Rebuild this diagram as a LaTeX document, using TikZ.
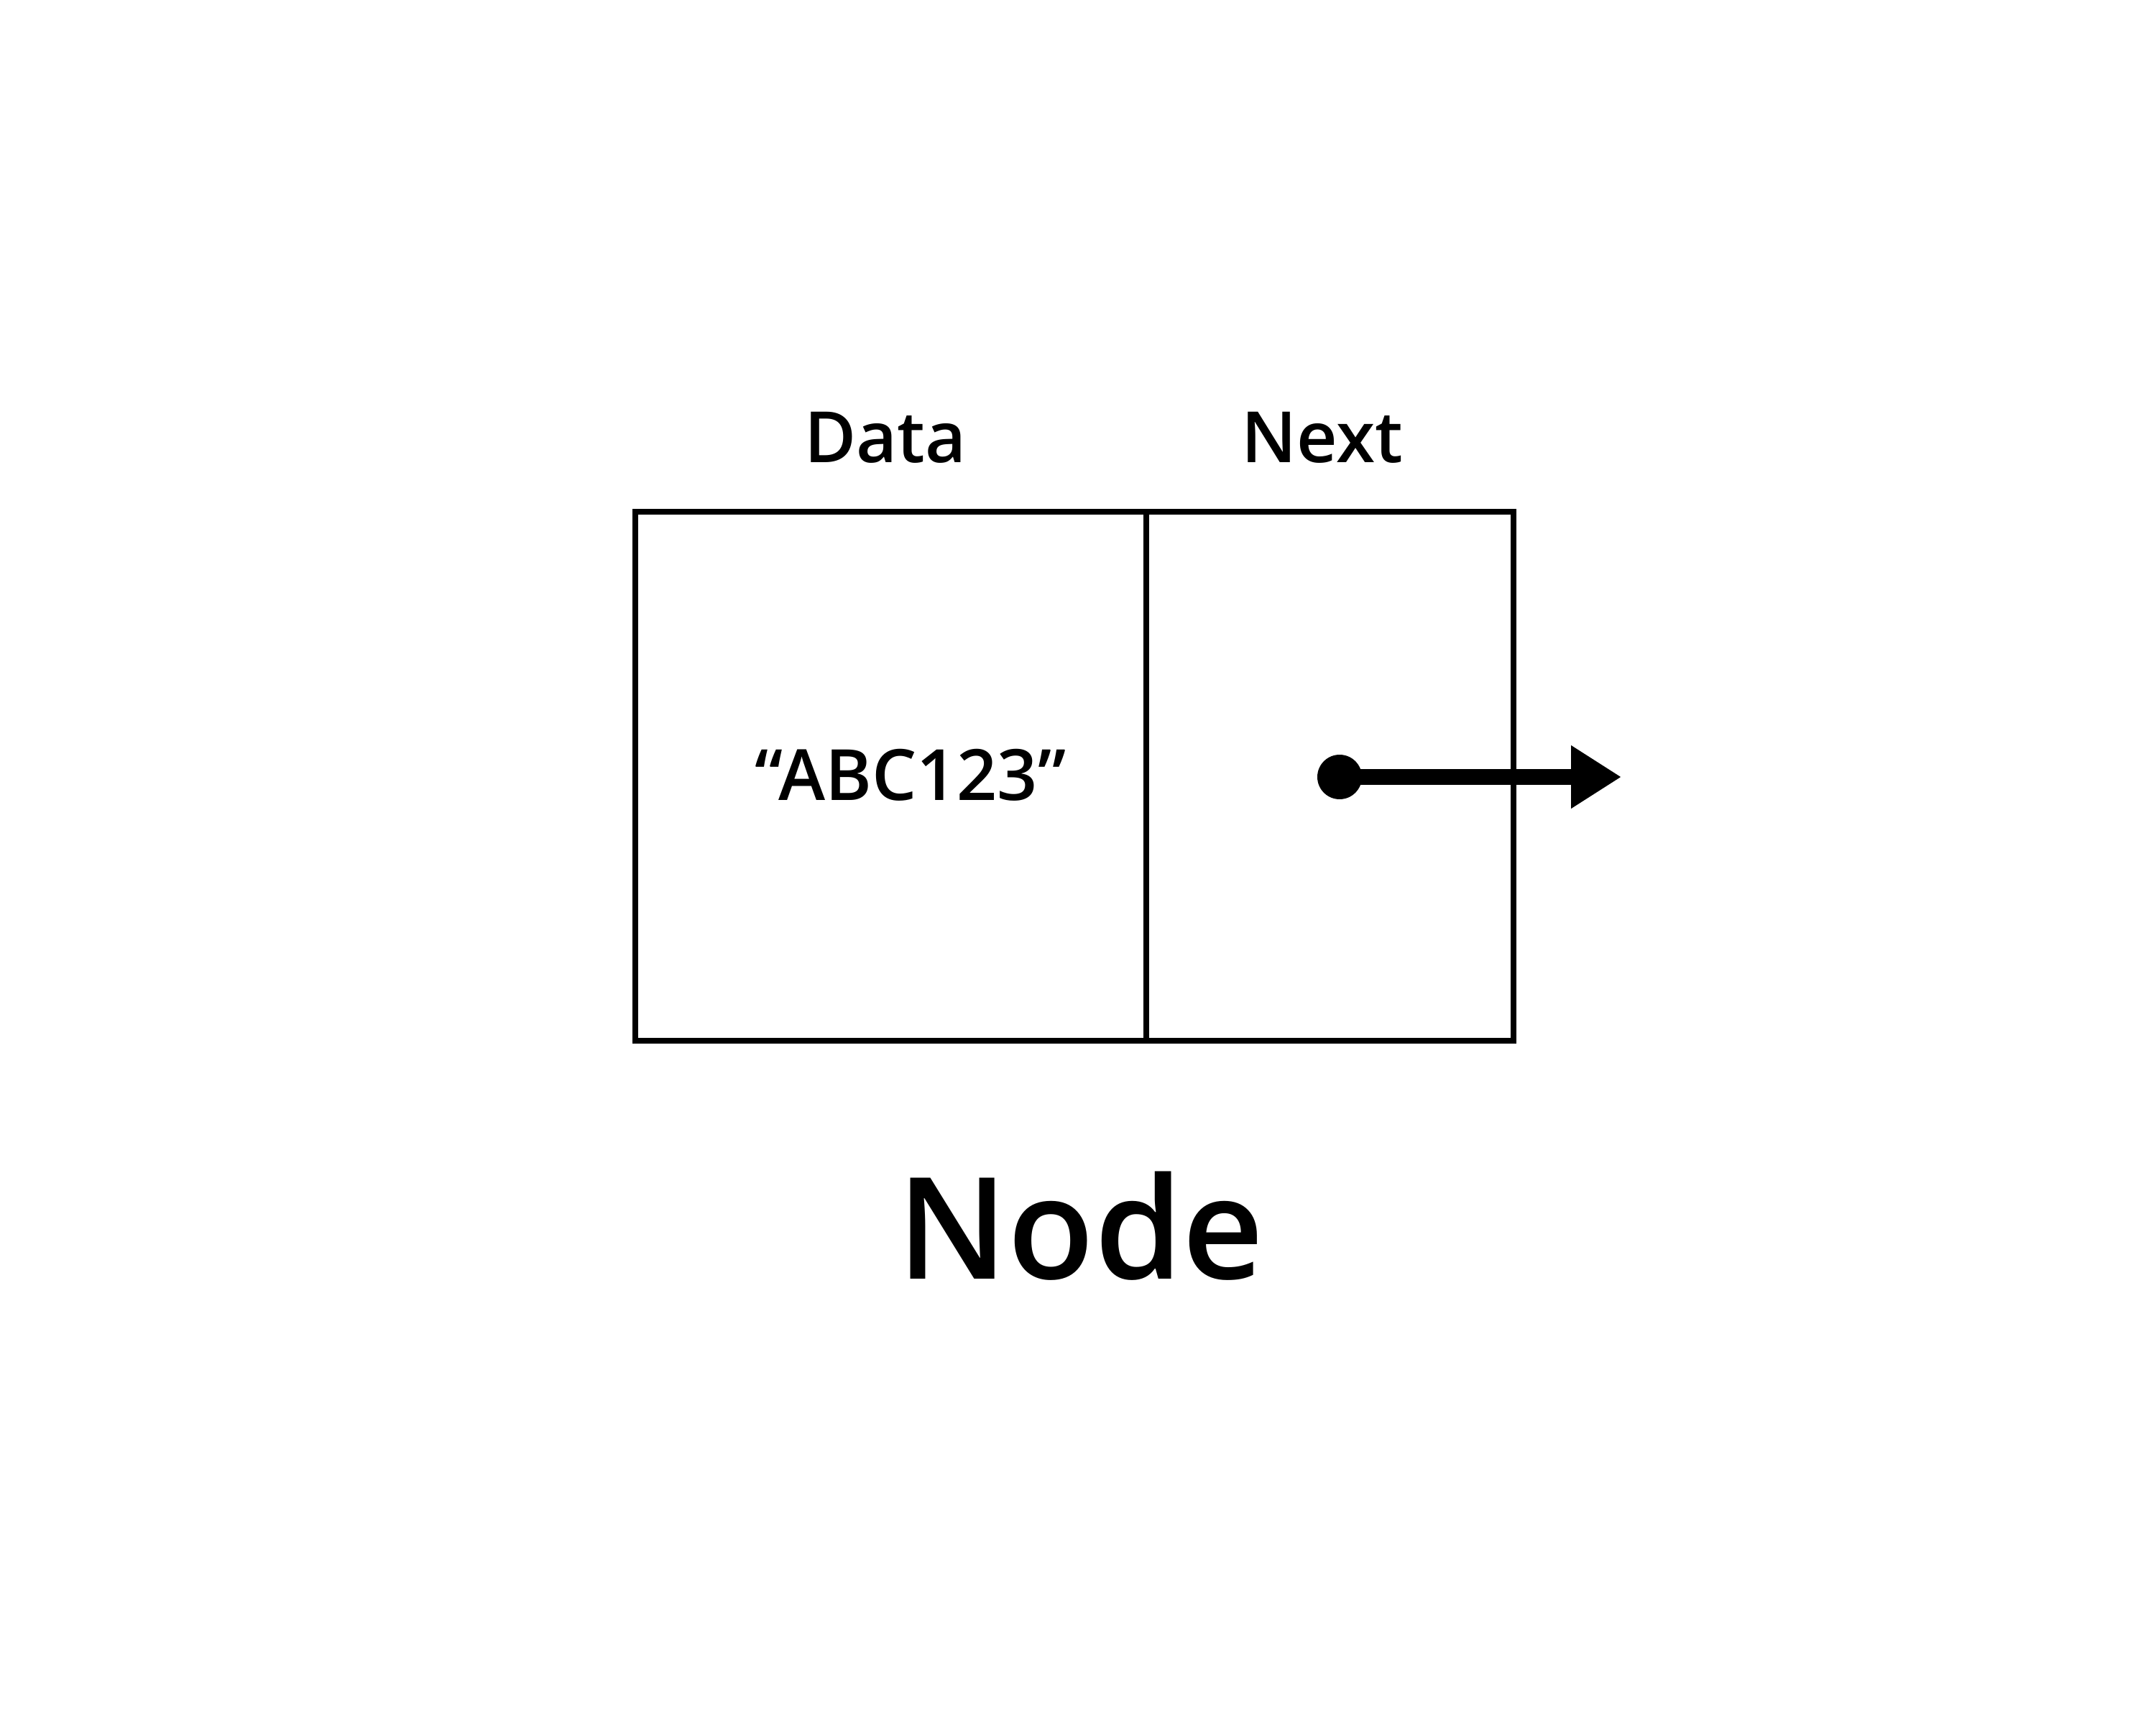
\documentclass[tikz,border=0pt]{standalone}
\usepackage{fontspec}
\setmainfont{Open Sans}
\newfontfamily\sbfont{Open Sans}[UprightFont=* Semibold]
\usetikzlibrary{positioning,arrows.meta}

\tikzset{
  cell/.style={draw, line width=0.08cm, rectangle, inner sep=0pt, outer sep=0pt,
    minimum height=7.36cm},
  lbl/.style={font=\sbfont\fontsize{28}{32}\selectfont, anchor=base, inner sep=0pt},
  ptrdot/.style={circle, fill=black, inner sep=0pt, minimum size=0.62cm},
  ptrline/.style={line width=0.21cm, -{Triangle[length=0.7cm, width=0.83cm]}}
}

\begin{document}
\begin{tikzpicture}
    \useasboundingbox (0,0) rectangle (30,-24);

    % Draw the two cells
    \node[cell, minimum width=7.11cm] (datacell) at (12.395,-10.80) {};
    \node[cell, minimum width=5.11cm, right=0pt of datacell] (nextcell) {};

    % Draw labels
    \node[lbl] (datalbl) at (12.32,-6.44) {Data};
    \node[lbl] (nextlbl) at (18.40,-6.44) {Next};
    \node[lbl] (value) at (12.67,-11.13) {“ABC123”};

    % Draw pointer
    \node[ptrdot] (ptr) at (18.64,-10.81) {};
    \coordinate (tip) at (22.56,-10.81);
    \draw[ptrline] (ptr.center) -- (tip);

    % Draw title
    \node[lbl, font=\sbfont\fontsize{56}{64}\selectfont] (title) at (15.04,-17.79) {Node};
  \end{tikzpicture}
\end{document}
